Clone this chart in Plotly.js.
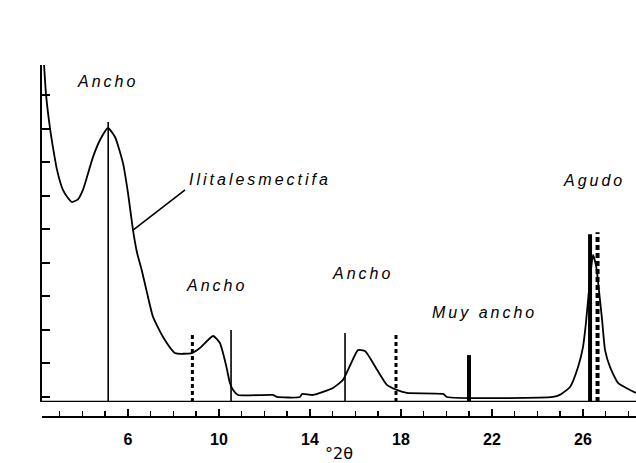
<!DOCTYPE html>
<html>
<head>
<meta charset="utf-8">
<script src="https://cdn.plot.ly/plotly-3.0.1.min.js"></script>
<style>
  html, body { margin: 0; padding: 0; background: #fff; }
  #chart { width: 636px; height: 463px; }
  .annotation-text { letter-spacing: 3px; }
</style>
</head>
<body>
<div id="chart"></div>
<script>
// ---- Diffractogram trace (degrees 2-theta, relative intensity) ----
const twoTheta = [2.31, 2.40, 2.57, 2.70, 2.88, 3.14, 3.36, 3.54, 3.80, 4.02, 4.46, 4.77, 5.12, 5.43, 5.78,
  6.00, 6.22, 6.40, 6.60, 6.84, 7.10, 7.54, 8.07, 8.81, 9.16, 9.74, 10.04, 10.31, 10.48, 10.62, 10.84,
  12.37, 12.55, 13.56, 13.65, 14.13, 15.01, 15.45, 15.80, 16.11, 16.42, 16.95, 17.38, 17.82, 18.26, 19.85,
  20.02, 24.68, 25.00, 25.43, 25.78, 26.00, 26.13, 26.30, 26.44, 26.58, 26.70, 26.84, 26.97, 27.19, 27.54, 28.07, 28.33];
const intensity = [10.06, 9.16, 8.18, 7.61, 6.93, 6.33, 6.09, 5.97, 6.05, 6.33, 7.31, 7.82, 8.18, 7.91, 7.13,
  6.24, 5.13, 4.45, 3.95, 3.25, 2.54, 1.94, 1.46, 1.46, 1.61, 1.97, 1.76, 1.10, 0.57, 0.36, 0.21,
  0.21, 0.15, 0.15, 0.24, 0.21, 0.42, 0.66, 1.15, 1.55, 1.52, 0.96, 0.51, 0.36, 0.27, 0.24,
  0.15, 0.15, 0.22, 0.45, 1.04, 1.64, 2.36, 3.60, 4.39, 4.05, 3.34, 2.45, 1.55, 1.04, 0.57, 0.36, 0.27];

// ---- Reference sticks ----
const stickPos = [5.13, 8.83, 10.53, 15.54, 17.78, 20.99, 26.31, 26.64];
const stickHeight = [8.36, 2.09, 2.15, 2.06, 2.09, 1.40, 5.01, 5.07];
const stickKind = ['thin', 'dashed', 'thin', 'thin', 'dashed', 'thick', 'thick', 'dashedThick'];

// ---- Tick labels ----
const tickValues = [6, 10, 14, 18, 22, 26];
const tickLabels = ['6', '10', '14', '18', '22', '26'];
const xTitle = '°2θ';

// ---- Text labels ----
const labelText = ['Ancho', 'Ilitalesmectifa', 'Ancho', 'Ancho', 'Muy ancho', 'Agudo'];
const labelX = [5.12, 11.80, 9.91, 16.29, 21.65, 26.48];
const labelY = [9.58, 6.63, 3.49, 3.85, 2.66, 6.60];

const kindStyle = {
  thin: { width: 1.6, dash: 'solid' },
  dashed: { width: 3, dash: '4px,3px' },
  thick: { width: 4, dash: 'solid' },
  dashedThick: { width: 4, dash: '5px,3px' }
};

const traces = [{
  x: twoTheta, y: intensity, type: 'scatter', mode: 'lines',
  line: { color: '#000', width: 1.8, shape: 'spline', smoothing: 0.5 }, hoverinfo: 'skip', showlegend: false
}];
stickPos.forEach((p, i) => {
  const st = kindStyle[stickKind[i]];
  traces.push({
    x: [p, p], y: [0, stickHeight[i]], type: 'scatter', mode: 'lines',
    line: { color: '#000', width: st.width, dash: st.dash }, hoverinfo: 'skip', showlegend: false
  });
});

const annotations = labelText.map((t, i) => ({
  x: labelX[i], y: labelY[i], xref: 'x', yref: 'y', text: t, showarrow: false,
  font: { family: 'Liberation Sans, Arial, sans-serif', size: 16, style: 'italic', color: '#000' }
}));

const layout = {
  width: 636, height: 463,
  margin: { l: 42, r: 0, t: 65, b: 46 },
  paper_bgcolor: '#fff', plot_bgcolor: '#fff',
  showlegend: false,
  xaxis: {
    range: [2.22, 28.33], anchor: 'free', position: 0,
    showgrid: false, zeroline: false,
    showline: true, linecolor: '#000', linewidth: 2,
    tickmode: 'array', tickvals: tickValues, ticktext: tickLabels,
    ticks: 'inside', ticklen: 7, tickwidth: 1.5, tickcolor: '#000',
    minor: { dtick: 1, tick0: 0, ticks: 'inside', ticklen: 5, tickwidth: 1.5, tickcolor: '#000', showgrid: false },
    ticklabelstandoff: 8,
    tickfont: { family: 'Liberation Sans, Arial, sans-serif', size: 16, weight: 'bold', color: '#000' },
    title: { text: xTitle, standoff: 4, font: { family: 'DejaVu Sans, sans-serif', size: 16, color: '#000' } }
  },
  yaxis: {
    range: [0, 10.06], domain: [15 / 352, 1],
    showgrid: false, zeroline: false,
    showline: true, linecolor: '#000', linewidth: 2.5,
    tickmode: 'linear', tick0: 1.16, dtick: 1,
    ticks: 'inside', ticklen: 8, tickwidth: 2, tickcolor: '#000',
    showticklabels: false
  },
  shapes: [
    { type: 'line', xref: 'paper', yref: 'y', x0: 0, x1: 1, y0: 0, y1: 0, line: { color: '#000', width: 2.5 } },
    { type: 'line', xref: 'x', yref: 'y', x0: 6.22, y0: 5.13, x1: 8.51, y1: 6.33, line: { color: '#000', width: 1.6 } }
  ],
  annotations: annotations
};

Plotly.newPlot('chart', traces, layout, { displayModeBar: false, staticPlot: true });
</script>
</body>
</html>
